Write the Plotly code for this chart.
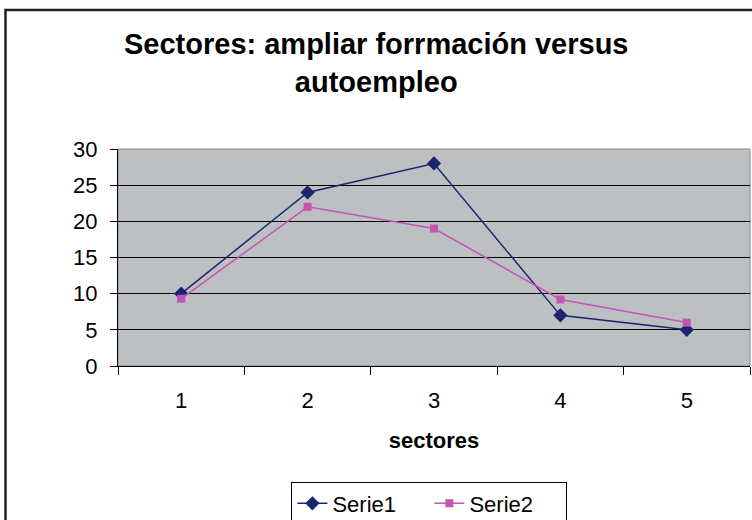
import plotly.graph_objects as go

sectores = ["1", "2", "3", "4", "5"]
serie1 = [10, 24, 28, 7, 5]
serie2 = [9.3, 22, 19, 9.2, 6]

FONT = "Arial, Liberation Sans, sans-serif"

fig = go.Figure()
fig.add_trace(go.Scatter(x=sectores, y=serie1, name="Serie1", mode="lines+markers",
                         line=dict(color="#1c2470", width=1.5),
                         marker=dict(symbol="diamond", size=11, color="#1c2470")))
fig.add_trace(go.Scatter(x=sectores, y=serie2, name="Serie2", mode="lines+markers",
                         line=dict(color="#c455b4", width=1.5),
                         marker=dict(symbol="square", size=8, color="#c455b4")))

fig.add_annotation(text="<b>Sectores: ampliar forrmación versus<br>autoempleo</b>",
                   xref="paper", yref="paper", x=0.408, y=1.565, xanchor="center", yanchor="top",
                   showarrow=False, font=dict(size=29, family=FONT))

fig.update_layout(
    width=752, height=520,
    margin=dict(l=118, r=2, t=149, b=154),
    paper_bgcolor="white",
    plot_bgcolor="#bcc0c3",
    font=dict(family=FONT, color="black", size=22),
    showlegend=True,
    legend=dict(orientation="h", xref="container", yref="container",
                x=0.571, xanchor="center", y=0.074, yanchor="top",
                bordercolor="black", borderwidth=1, font=dict(size=22),
                entrywidth=92, entrywidthmode="pixels", tracegroupgap=0),
    shapes=[
        dict(type="rect", xref="paper", yref="paper", x0=-0.178, x1=1.2, y0=-1.2, y1=1.64,
             line=dict(color="#222222", width=2.5), layer="below"),
        dict(type="rect", xref="paper", yref="paper", x0=0, x1=1, y0=0, y1=1,
             line=dict(color="#888888", width=1), layer="below"),
    ],
)

fig.update_xaxes(type="category", range=[-0.5, 4.5], tickson="boundaries", ticks="outside",
                 ticklen=8, tickcolor="black", showline=True, linecolor="black", linewidth=1,
                 showgrid=False, ticklabelstandoff=15, automargin=False,
                 tickfont=dict(size=22),
                 title=dict(text="<b>sectores</b>", font=dict(size=22), standoff=20))
fig.update_yaxes(range=[0, 30], dtick=5, ticks="outside", ticklen=7, tickcolor="black",
                 showline=True, linecolor="black", linewidth=1, automargin=False,
                 showgrid=True, gridcolor="black", gridwidth=1, zeroline=False,
                 ticklabelstandoff=8, tickfont=dict(size=22))

fig.write_html("out.html", config={"displayModeBar": False},
               post_script="document.body.style.margin='0';")
